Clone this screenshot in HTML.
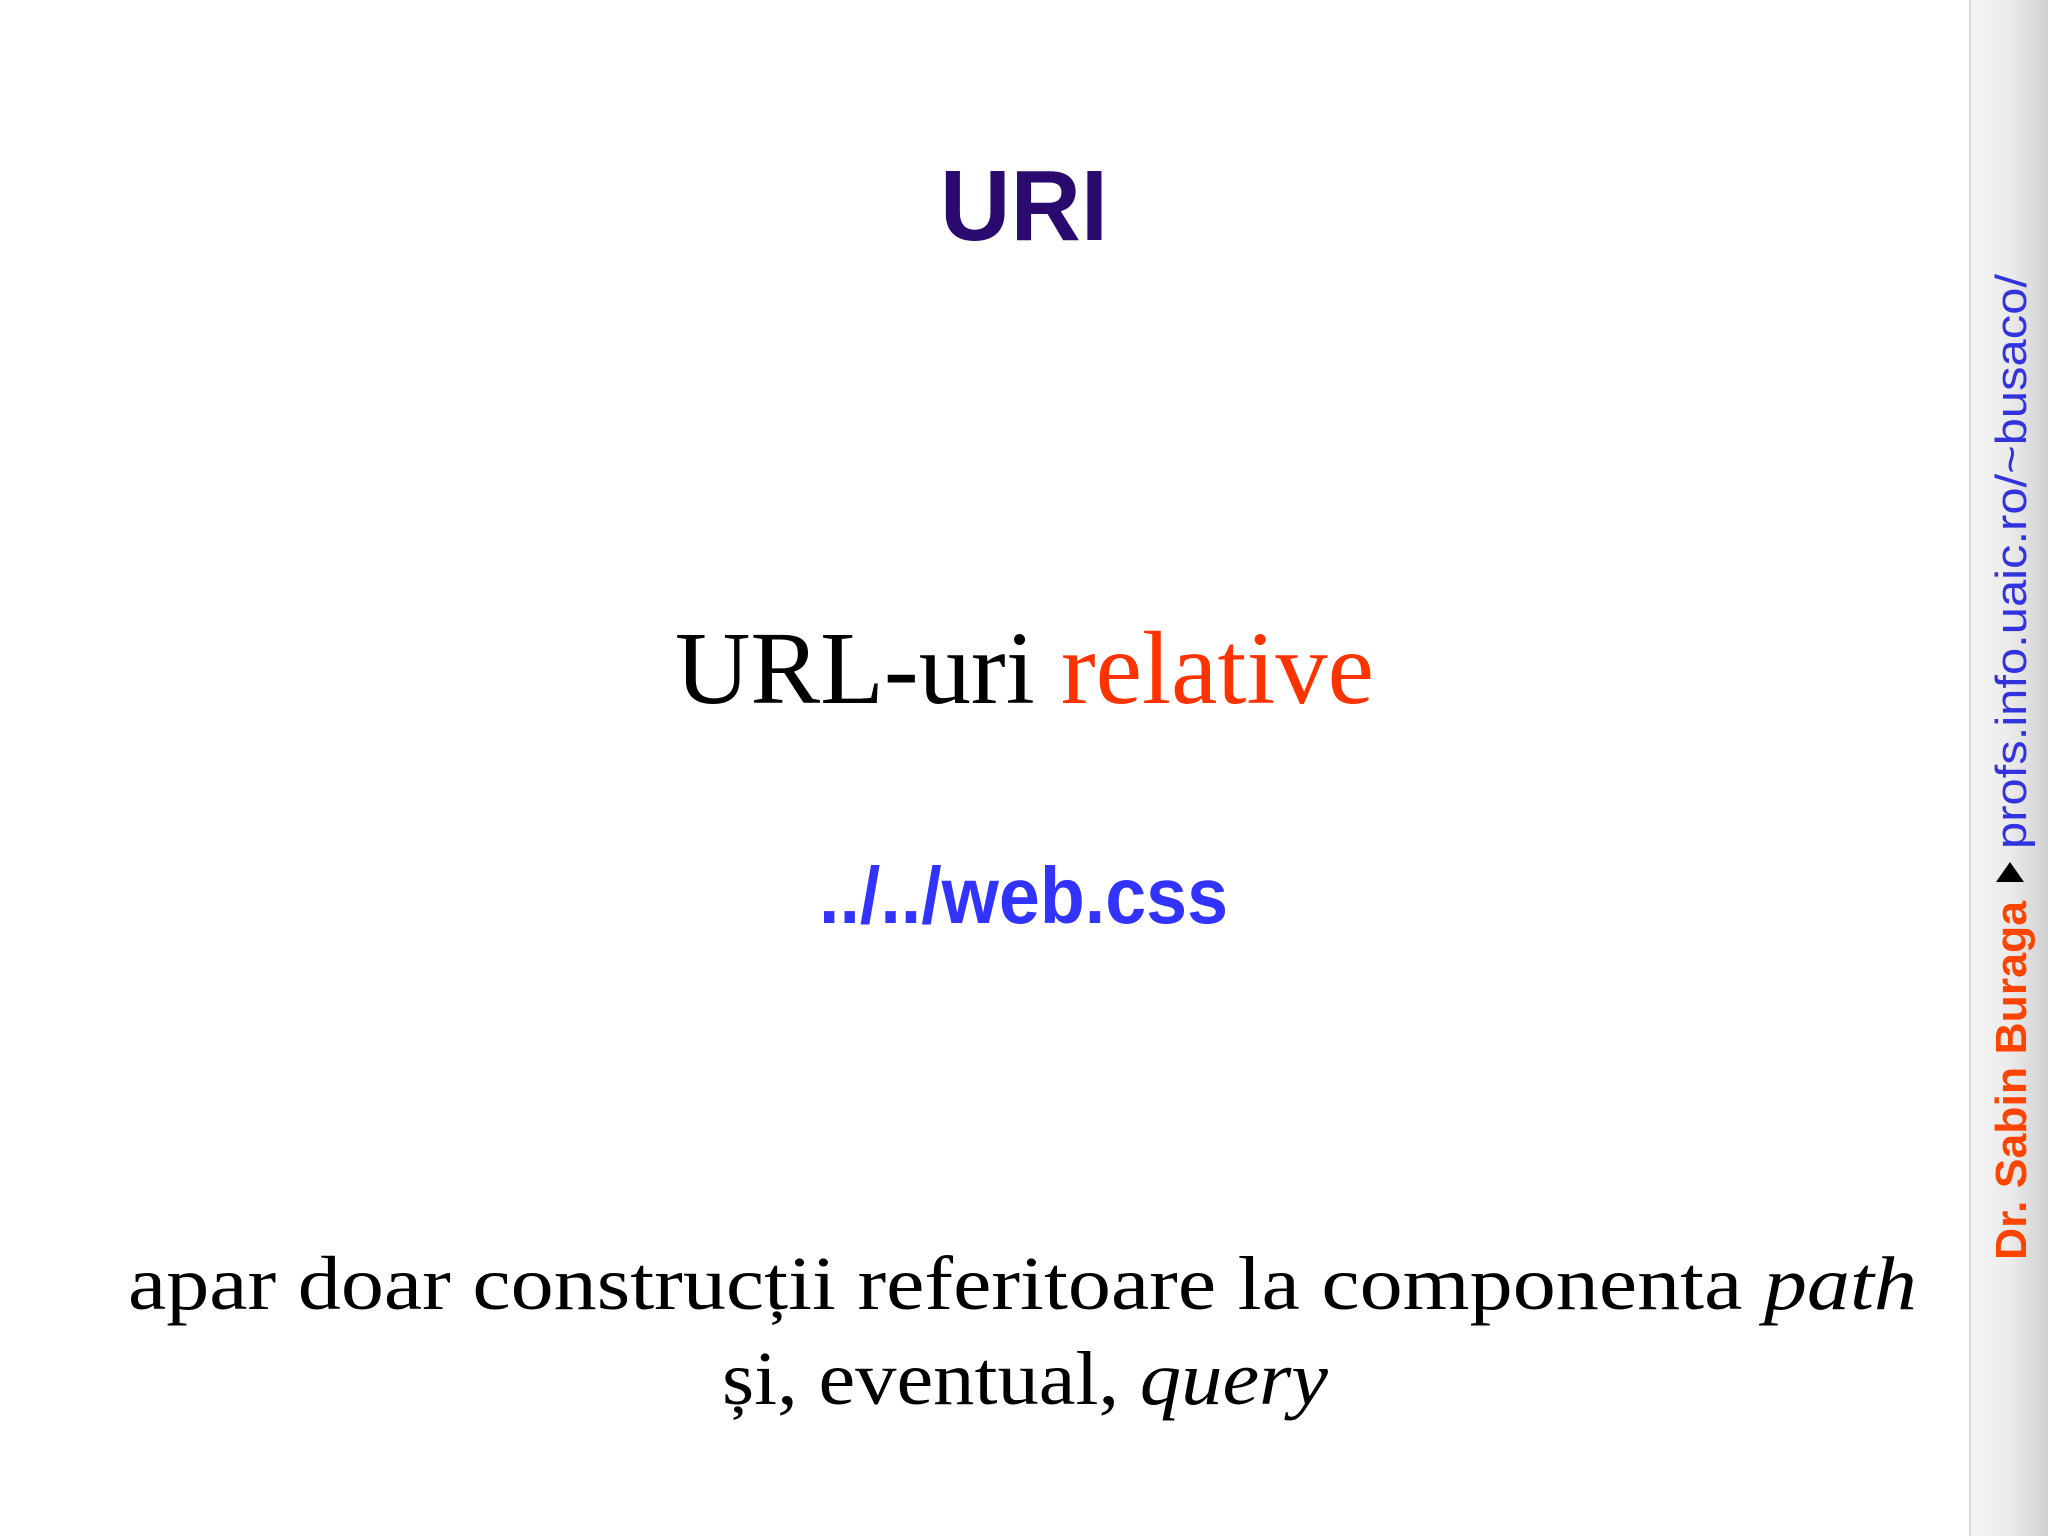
<!DOCTYPE html>
<html><head><meta charset="utf-8"><style>
html,body{margin:0;padding:0;background:#fff;}
svg{display:block;}
</style></head><body>
<svg width="2048" height="1536" viewBox="0 0 2048 1536" xmlns="http://www.w3.org/2000/svg">
<defs>
<linearGradient id="g" x1="0" x2="1" y1="0" y2="0">
<stop offset="0" stop-color="#f4f4f4"/>
<stop offset="0.5" stop-color="#ececec"/>
<stop offset="1" stop-color="#d0d0d0"/>
</linearGradient>
</defs>
<rect width="2048" height="1536" fill="#fff"/>
<rect x="1969" y="0" width="79" height="1536" fill="url(#g)"/>
<line x1="1970" y1="0" x2="1970" y2="1536" stroke="#d8d8d8" stroke-width="2"/>
<text x="1024" y="240" text-anchor="middle" font-family="Liberation Sans, sans-serif" font-weight="bold" font-size="100" fill="#2a0a6e" textLength="168" lengthAdjust="spacingAndGlyphs">URI</text>
<text x="675" y="703" font-family="Liberation Serif, serif" font-size="104" textLength="699" lengthAdjust="spacingAndGlyphs"><tspan fill="#000">URL-uri </tspan><tspan fill="#ff3300">relative</tspan></text>
<text x="819" y="923" font-family="Liberation Sans, sans-serif" font-weight="bold" font-size="80" fill="#3333ff" textLength="409" lengthAdjust="spacingAndGlyphs">../../web.css</text>
<text x="128" y="1309" font-family="Liberation Serif, serif" font-size="76" fill="#000" textLength="1789" lengthAdjust="spacingAndGlyphs">apar doar construcții referitoare la componenta <tspan font-style="italic">path</tspan></text>
<text x="722" y="1404" font-family="Liberation Serif, serif" font-size="76" fill="#000" textLength="606" lengthAdjust="spacingAndGlyphs">și, eventual, <tspan font-style="italic">query</tspan></text>
<g transform="translate(2026,0) rotate(-90)">
<text x="-1260" y="0" font-family="Liberation Sans, sans-serif" font-weight="bold" font-size="44" fill="#ff4400" textLength="359" lengthAdjust="spacingAndGlyphs">Dr. Sabin Buraga</text>
<polygon points="-882,-30 -862,-16 -882,-2" fill="#000"/>
<text x="-849" y="0" font-family="Liberation Sans, sans-serif" font-size="44" fill="#3333dd" textLength="575" lengthAdjust="spacingAndGlyphs">profs.info.uaic.ro/~busaco/</text>
</g>
</svg>
</body></html>
